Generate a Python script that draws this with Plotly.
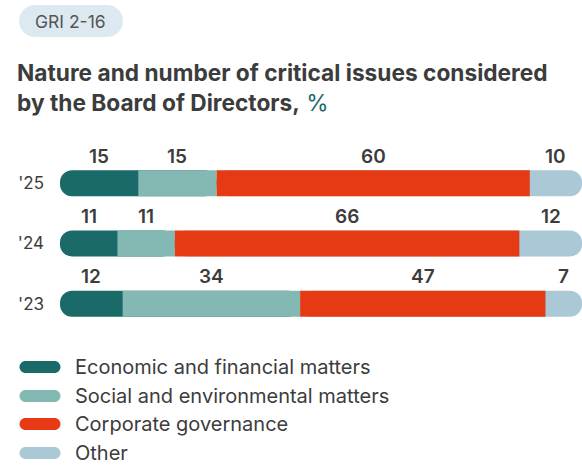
import plotly.graph_objects as go

years = ["'23", "'24", "'25"]
categories = ["Economic and financial matters", "Social and environmental matters",
              "Corporate governance", "Other"]
economic = [12, 11, 15]
social = [34, 11, 15]
governance = [47, 66, 60]
other = [7, 12, 10]
series = [economic, social, governance, other]
colors = ["#1a6a69", "#83b9b2", "#e53a13", "#aac8d6"]

W, H = 582, 470
L, R, T, B = 60, 0, 153, 136
PW, PH = W - L - R, H - T - B
FONT = "Inter"
TXT = "#3c3c3c"

def px(x):
    return (x - L) / PW

def py(y):
    return (H - B - y) / PH

e, s, g, o = economic, social, governance, other
ny = len(years)
# bases / lengths derived from the data; the two end segments are rounded and extend
# underneath their square-cornered neighbours so only their outer ends show rounded
specs = [
    (0, [0] * ny, [e[i] + s[i] for i in range(ny)], 13),
    (3, [e[i] + s[i] for i in range(ny)], [g[i] + o[i] for i in range(ny)], 13),
    (1, [e[i] for i in range(ny)], s, 0),
    (2, [e[i] + s[i] for i in range(ny)], g, 0),
]

fig = go.Figure()
for j, base, length, cr in specs:
    fig.add_trace(go.Bar(y=years, x=length, base=base, orientation="h", name=categories[j],
                         marker=dict(color=colors[j], line=dict(width=0), cornerradius=cr),
                         customdata=series[j],
                         hovertemplate="%{customdata}<extra>" + categories[j] + "</extra>",
                         showlegend=False))

annotations = []
for i, yr in enumerate(years):
    cum = 0
    for vals in series:
        v = vals[i]
        annotations.append(dict(x=cum + v / 2, y=yr, xref="x", yref="y", text=str(v),
                                showarrow=False, yshift=27,
                                font=dict(family=FONT, size=19, color=TXT, weight=600)))
        cum += v

def pill(w, h):
    r = h / 2
    a = w / 2 - r
    k = 0.5523 * r
    return (f"M {-a},{-r} L {a},{-r} "
            f"C {a + k},{-r} {a + r},{-k} {a + r},0 "
            f"C {a + r},{k} {a + k},{r} {a},{r} "
            f"L {-a},{r} "
            f"C {-a - k},{r} {-a - r},{k} {-a - r},0 "
            f"C {-a - r},{-k} {-a - k},{-r} {-a},{-r} Z")

shapes = []
shapes.append(dict(type="path", xref="paper", yref="paper", xsizemode="pixel", ysizemode="pixel",
                   xanchor=px(71), yanchor=py(21), path=pill(104, 32),
                   fillcolor="#dde9f1", line=dict(width=0), layer="below"))
annotations.append(dict(x=px(70), y=py(21), xref="paper", yref="paper", text="GRI 2-16",
                        showarrow=False, xanchor="center", yanchor="middle",
                        font=dict(family=FONT, size=17.5, color="#555555")))
annotations.append(dict(x=px(15), y=py(88), xref="paper", yref="paper",
                        text="<b>Nature and number of critical issues considered<br>by the Board of Directors,</b> "
                             "<span style='color:#1a6a69'>%</span>",
                        showarrow=False, xanchor="left", yanchor="middle", align="left",
                        font=dict(family=FONT, size=22.7, color=TXT)))
leg_y = [367, 396, 424, 453]
for name, col, ly in zip(categories, colors, leg_y):
    shapes.append(dict(type="path", xref="paper", yref="paper", xsizemode="pixel", ysizemode="pixel",
                       xanchor=px(40), yanchor=py(ly), path=pill(41, 12),
                       fillcolor=col, line=dict(width=0)))
    annotations.append(dict(x=px(73), y=py(ly), xref="paper", yref="paper", text=name,
                            showarrow=False, xanchor="left", yanchor="middle",
                            font=dict(family=FONT, size=20, color=TXT)))

fig.update_layout(
    width=W, height=H, barmode="overlay", bargap=0.57,
    margin=dict(l=L, r=R, t=T, b=B, pad=0),
    paper_bgcolor="white", plot_bgcolor="white",
    xaxis=dict(range=[0, 100], visible=False, fixedrange=True),
    yaxis=dict(categoryorder="array", categoryarray=years, range=[-0.5, 2.5],
               showgrid=False, zeroline=False,
               showline=False, ticks="", ticklabelstandoff=15,
               tickfont=dict(family=FONT, size=17, color=TXT), fixedrange=True),
    annotations=annotations, shapes=shapes, showlegend=False,
)
fig.write_html("out.html", config={"displayModeBar": False},
               post_script="document.body.style.margin='0';")
